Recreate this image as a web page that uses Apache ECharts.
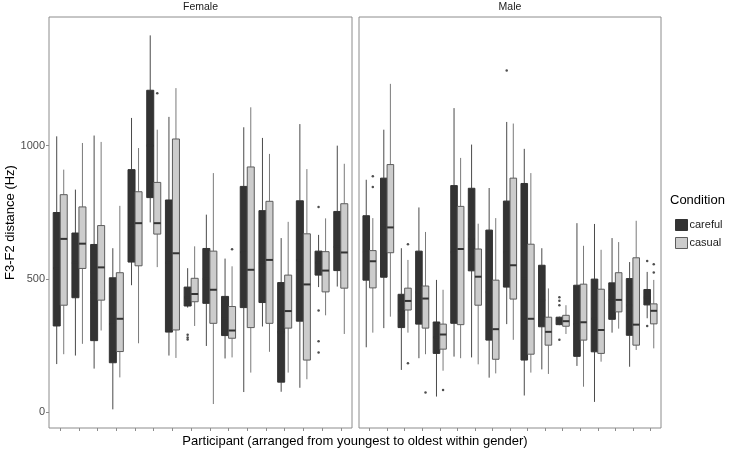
<!DOCTYPE html>
<html>
<head>
<meta charset="utf-8">
<script src="https://cdn.jsdelivr.net/npm/echarts@6/dist/echarts.min.js"></script>
<style>
  html, body { margin: 0; padding: 0; background: #fff; }
  #chart { width: 733px; height: 455px; }
</style>
</head>
<body>
<div id="chart"></div>
<script>
  // [lower whisker, q1, median, q3, upper whisker], one row per participant
  const femaleCareful = [
    [180, 323, 540, 749, 1035], [212, 429, 560, 672, 835], [163, 268, 450, 629, 1038],
    [10, 185, 330, 504, 615], [476, 563, 700, 910, 1104], [712, 805, 1000, 1208, 1414],
    [212, 300, 560, 796, 1108], [392, 398, 430, 469, 540], [248, 408, 500, 614, 741],
    [201, 287, 350, 434, 576], [75, 392, 600, 847, 1069], [321, 411, 560, 756, 1029],
    [76, 112, 300, 486, 653], [91, 341, 570, 793, 1081], [469, 514, 560, 604, 665],
    [471, 531, 620, 753, 1000]
  ]
  const femaleCasual = [
    [217, 401, 650, 816, 910], [256, 539, 632, 770, 1010], [306, 420, 543, 700, 1014],
    [130, 227, 350, 523, 774], [258, 549, 709, 827, 991], [544, 668, 709, 862, 1060],
    [203, 308, 596, 1025, 1216], [323, 414, 443, 502, 622], [30, 333, 459, 604, 897],
    [205, 277, 306, 396, 547], [148, 317, 534, 920, 1144], [226, 333, 571, 791, 969],
    [148, 315, 379, 514, 714], [123, 195, 479, 669, 912], [363, 451, 531, 602, 727],
    [293, 465, 599, 782, 932]
  ]
  const maleCareful = [
    [243, 495, 600, 737, 872], [315, 506, 700, 878, 1060], [158, 317, 380, 442, 615],
    [202, 330, 450, 604, 768], [58, 220, 280, 338, 496], [208, 333, 600, 850, 1141],
    [205, 530, 650, 840, 1004], [129, 270, 450, 683, 841], [330, 469, 600, 792, 1089],
    [62, 195, 500, 858, 988], [160, 320, 420, 551, 615], [326, 328, 345, 356, 358],
    [173, 209, 330, 476, 709], [38, 226, 350, 499, 706], [298, 348, 420, 485, 653],
    [170, 288, 400, 501, 563], [352, 402, 430, 460, 526]
  ]
  const maleCasual = [
    [298, 466, 566, 606, 728], [358, 598, 693, 929, 1232], [298, 383, 417, 465, 571],
    [217, 315, 426, 473, 676], [155, 236, 291, 330, 459], [202, 328, 612, 772, 954],
    [179, 401, 508, 612, 707], [145, 198, 311, 495, 728], [271, 424, 551, 878, 1083],
    [148, 217, 350, 630, 897], [143, 251, 301, 356, 464], [293, 322, 341, 363, 401],
    [95, 270, 337, 480, 624], [189, 220, 308, 461, 609], [313, 376, 421, 523, 638],
    [233, 251, 328, 579, 718], [239, 331, 380, 406, 496]
  ]

  // outliers: [participant index, value]
  const femaleCarefulOut = [[7, 290], [7, 280], [7, 272], [14, 770], [14, 381], [14, 266], [14, 223]]
  const femaleCasualOut = [[5, 1197], [9, 611]]
  const maleCarefulOut = [[8, 1282], [11, 431], [11, 418], [11, 401], [11, 271], [16, 567], [16, 323]]
  const maleCasualOut = [[0, 885], [0, 845], [2, 630], [2, 183], [3, 73], [4, 83], [16, 555], [16, 524]]

  const panels = ['Female', 'Male']
  const yTicks = [0, 500, 1000]

  const FONT = '"Liberation Sans", Arial, sans-serif'
  const DODGE = 0.1875
  const BOX_W = 0.375

  /** 盒须图绘制 */
  function boxRender(offset, fill, stroke, whisker) {
    return function (params, api) {
      const x = api.value(0) + offset
      const lo = api.coord([x, api.value(1)])
      const q1 = api.coord([x, api.value(2)])
      const md = api.coord([x, api.value(3)])
      const q3 = api.coord([x, api.value(4)])
      const hi = api.coord([x, api.value(5)])
      const hw = api.size([BOX_W, 0])[0] / 2
      return {
        type: 'group',
        children: [
          { type: 'line', shape: { x1: lo[0], y1: lo[1], x2: q1[0], y2: q1[1] }, style: { stroke: whisker, lineWidth: 1 } },
          { type: 'line', shape: { x1: q3[0], y1: q3[1], x2: hi[0], y2: hi[1] }, style: { stroke: whisker, lineWidth: 1 } },
          { type: 'rect', shape: { x: q3[0] - hw, y: q3[1], width: hw * 2, height: q1[1] - q3[1] }, style: { fill: fill, stroke: stroke, lineWidth: 1 } },
          { type: 'line', shape: { x1: md[0] - hw, y1: md[1], x2: md[0] + hw, y2: md[1] }, style: { stroke: '#333', lineWidth: 2 } }
        ]
      }
    }
  }

  function boxData(rows) {
    return rows.map((r, i) => [i].concat(r))
  }

  function outData(rows, offset) {
    return rows.map(r => [r[0] + offset, r[1]])
  }

  const conds = [
    { name: 'careful', fill: '#333333', stroke: '#333333', whisker: '#4a4a4a', off: -DODGE },
    { name: 'casual', fill: '#cccccc', stroke: '#5c5c5c', whisker: '#7a7a7a', off: DODGE }
  ]
  const boxSets = [[femaleCareful, femaleCasual], [maleCareful, maleCasual]]
  const outSets = [[femaleCarefulOut, femaleCasualOut], [maleCarefulOut, maleCasualOut]]

  const series = []
  boxSets.forEach((pair, p) => {
    pair.forEach((rows, c) => {
      const cd = conds[c]
      series.push({
        name: cd.name,
        type: 'custom',
        xAxisIndex: p,
        yAxisIndex: p,
        renderItem: boxRender(cd.off, cd.fill, cd.stroke, cd.whisker),
        encode: { x: 0, y: [1, 2, 3, 4, 5] },
        itemStyle: { color: cd.fill, borderColor: cd.stroke },
        data: boxData(rows),
        silent: true
      })
      series.push({
        name: cd.name,
        type: 'scatter',
        xAxisIndex: p,
        yAxisIndex: p,
        symbolSize: 2.5,
        itemStyle: { color: '#222' },
        data: outData(outSets[p][c], cd.off),
        silent: true
      })
    })
  })

  const grids = [
    { left: 49, top: 17, width: 303, height: 411 },
    { left: 359, top: 17, width: 302, height: 411 }
  ]

  const chart = echarts.init(document.getElementById('chart'))
  chart.setOption({
    animation: false,
    textStyle: { fontFamily: FONT },
    grid: grids.map(g => ({ ...g, show: true, borderColor: '#8c8c8c', borderWidth: 1, backgroundColor: '#fff' })),
    xAxis: boxSets.map((pair, p) => {
      const n = pair[0].length
      return {
        type: 'value',
        gridIndex: p,
        min: -0.6,
        max: n - 0.4,
        axisLine: { show: false, onZero: false },
        splitLine: { show: false },
        axisLabel: { show: false },
        axisTick: {
          show: true,
          length: 3,
          lineStyle: { color: '#8c8c8c' },
          customValues: pair[0].map((r, i) => i)
        }
      }
    }),
    yAxis: panels.map((name, p) => ({
      type: 'value',
      gridIndex: p,
      min: -60,
      max: 1483,
      name: p === 0 ? 'F3-F2 distance (Hz)' : '',
      nameLocation: 'middle',
      nameGap: 32,
      nameRotate: 90,
      nameTextStyle: { fontSize: 13, color: '#000' },
      axisLine: { show: false, onZero: false },
      splitLine: { show: false },
      axisTick: { show: p === 0, length: 3, lineStyle: { color: '#8c8c8c' }, customValues: yTicks },
      axisLabel: { show: p === 0, fontSize: 11, color: '#4d4d4d', margin: 4, customValues: yTicks, formatter: v => String(v) }
    })),
    legend: {
      left: 670,
      top: 214,
      orient: 'vertical',
      itemWidth: 12,
      itemHeight: 11,
      itemGap: 6,
      icon: 'rect',
      textStyle: { fontSize: 11, color: '#1a1a1a', padding: [0, 0, 0, -3] },
      data: conds.map(c => ({ name: c.name, itemStyle: { color: c.fill, borderColor: c.stroke, borderWidth: 1 } }))
    },
    graphic: [
      { type: 'text', left: 670, top: 194, style: { text: 'Condition', fontSize: 13, fill: '#000', fontFamily: FONT } },
      { type: 'text', x: 200.5, y: 7, style: { text: panels[0], fontSize: 10.5, fill: '#1a1a1a', fontFamily: FONT, align: 'center', verticalAlign: 'middle' } },
      { type: 'text', x: 510, y: 7, style: { text: panels[1], fontSize: 10.5, fill: '#1a1a1a', fontFamily: FONT, align: 'center', verticalAlign: 'middle' } },
      { type: 'text', x: 355, y: 441, style: { text: 'Participant (arranged from youngest to oldest within gender)', fontSize: 13, fill: '#000', fontFamily: FONT, align: 'center', verticalAlign: 'middle' } }
    ],
    series: series
  })
</script>
</body>
</html>
